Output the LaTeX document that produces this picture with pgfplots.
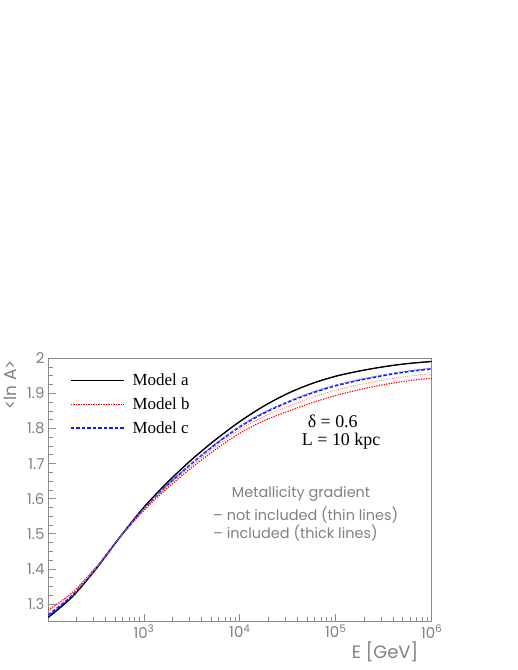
\documentclass[border=0pt]{standalone}
\usepackage{pgfplots}
\pgfplotsset{compat=1.18}
\usepackage{pgfplotstable}
\usepackage{fontspec}
\setmainfont{Liberation Serif}
\newfontfamily\rootfont{Poppins}
\definecolor{axgray}{gray}{0.55}
\definecolor{txtgray}{gray}{0.5}
\definecolor{rootblue}{rgb}{0.05,0.1,1}

\pgfplotstableread{
E       B      bt     bn     rn     rt
100     1.262  1.269  1.267  1.280  1.283
177.83  1.320  1.324  1.323  1.330  1.332
316.23  1.400  1.402  1.401  1.404  1.405
562.34  1.491  1.491  1.491  1.491  1.490
1000    1.576  1.572  1.573  1.570  1.567
1778.3  1.648  1.640  1.641  1.638  1.632
3162.3  1.712  1.701  1.702  1.695  1.689
5623.4  1.769  1.756  1.757  1.749  1.741
10000   1.820  1.805  1.807  1.797  1.787
17783   1.864  1.844  1.846  1.834  1.822
31623   1.900  1.875  1.877  1.863  1.849
56234   1.928  1.901  1.903  1.888  1.873
100000  1.949  1.922  1.924  1.909  1.894
177828  1.964  1.938  1.940  1.925  1.911
316228  1.976  1.951  1.953  1.938  1.925
562341  1.985  1.962  1.964  1.949  1.936
1000000 1.991  1.970  1.972  1.956  1.943
}\data

\begin{document}
\begin{tikzpicture}[x=1bp,y=1bp]
\path (0,0) rectangle (518,670);
\begin{axis}[
  at={(48bp,48.3bp)}, anchor=south west,
  width=383.7bp, height=263.4bp, scale only axis,
  xmode=log, xmin=100, xmax=1e6, ymin=1.25, ymax=2,
  clip mode=individual,
  axis line style={axgray, line width=0.8bp},
  every tick/.style={axgray, line width=0.8bp},
  tick align=inside, xtick pos=bottom, ytick pos=left,
  major tick length=8bp, minor tick length=4.5bp,
  xtick={1e3,1e4,1e5,1e6},
  xticklabels={10\textsuperscript{3},10\textsuperscript{4},10\textsuperscript{5},10\textsuperscript{6}},
  minor xtick={200,300,400,500,600,700,800,900,2000,3000,4000,5000,6000,7000,8000,9000,20000,30000,40000,50000,60000,70000,80000,90000,200000,300000,400000,500000,600000,700000,800000,900000},
  ytick={1.3,1.4,1.5,1.6,1.7,1.8,1.9,2},
  yticklabels={1.3,1.4,1.5,1.6,1.7,1.8,1.9,2},
  minor ytick={1.275,1.325,1.35,1.375,1.425,1.45,1.475,1.525,1.55,1.575,1.625,1.65,1.675,1.725,1.75,1.775,1.825,1.85,1.875,1.925,1.95,1.975},
  ticklabel style={font=\rootfont\fontsize{15}{15}\selectfont, text=txtgray},
  xlabel={E [GeV]},
  xlabel style={at={(rel axis cs:1,0)}, anchor=east, xshift=-10bp, yshift=-30bp, font=\rootfont\fontsize{18}{18}\selectfont, text=txtgray},
  legend style={at={(rel axis cs:0.057,0.948)}, anchor=north west, draw=none, fill=none, inner sep=0pt,
    font=\fontsize{17}{17}\selectfont, row sep=6.5bp, column sep=6bp},
  legend cell align=left,
  legend image code/.code={\draw[#1] (0bp,0bp) -- (53bp,0bp);},
]
\addplot[black, line width=1.3bp, smooth] table[x=E,y=B] {\data};
\addlegendentry{Model a}
\addplot[red, line width=1.2bp, dash pattern=on 1.2bp off 1.3bp, smooth] table[x=E,y=rt] {\data};
\addlegendentry{Model b}
\addplot[rootblue, line width=1.6bp, dash pattern=on 3.5bp off 2bp, smooth] table[x=E,y=bt] {\data};
\addlegendentry{Model c}
\addplot[black, line width=0.8bp, smooth, forget plot] table[x=E,y=B] {\data};
\addplot[red!55, line width=0.8bp, dash pattern=on 1bp off 1.2bp, smooth, forget plot] table[x=E,y=rn] {\data};
\addplot[rootblue!70, line width=0.8bp, dash pattern=on 3bp off 2bp, smooth, forget plot] table[x=E,y=bn] {\data};
\node[rotate=90, anchor=east, inner sep=0pt, text=txtgray, font=\rootfont\fontsize{17}{17}\selectfont] at (rel axis cs:-0.099,0.9935) {<ln A>};
\node[font=\fontsize{18}{18}\selectfont, inner sep=0pt] at (rel axis cs:0.742,0.762) {δ = 0.6};
\node[font=\fontsize{18}{18}\selectfont, inner sep=0pt] at (rel axis cs:0.764,0.685) {L = 10 kpc};
\node[anchor=west, inner sep=0pt, text=txtgray, font=\rootfont\fontsize{14.5}{14.5}\selectfont] at (rel axis cs:0.4787,0.4848) {Metallicity gradient};
\node[anchor=west, inner sep=0pt, text=txtgray, font=\rootfont\fontsize{14.5}{14.5}\selectfont] at (rel axis cs:0.430,0.405) {– not included (thin lines)};
\node[anchor=west, inner sep=0pt, text=txtgray, font=\rootfont\fontsize{14.5}{14.5}\selectfont] at (rel axis cs:0.430,0.3356) {– included (thick lines)};
\end{axis}
\end{tikzpicture}
\end{document}
